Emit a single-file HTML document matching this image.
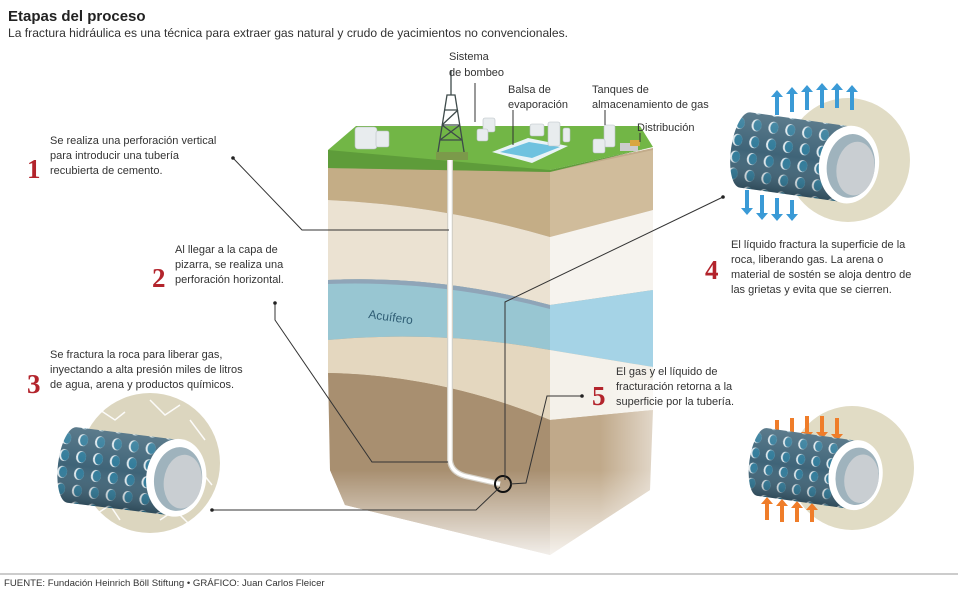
<!DOCTYPE html>
<html><head><meta charset="utf-8"><style>
body{margin:0;background:#fff;width:958px;height:591px;overflow:hidden;font-family:"Liberation Sans",sans-serif;}
svg{position:absolute;left:0;top:0}
.t{font-family:"Liberation Sans",sans-serif;font-size:11px;fill:#333}
.n{font-family:"Liberation Serif",serif;font-weight:bold;font-size:27px;fill:#b3242c}
</style></head><body>
<svg width="958" height="591" viewBox="0 0 958 591">
<defs>
<pattern id="holes" width="17" height="17" patternUnits="userSpaceOnUse">
<rect width="17" height="17" fill="#3f6478"/>
<ellipse cx="8" cy="8" rx="5" ry="6" fill="#dfe9ee"/>
<ellipse cx="9" cy="8" rx="4" ry="5.5" fill="#2f7a99"/>
</pattern>
<linearGradient id="shade" x1="0" y1="0" x2="0" y2="1">
<stop offset="0" stop-color="#fff" stop-opacity=".15"/><stop offset=".5" stop-color="#fff" stop-opacity="0"/><stop offset="1" stop-color="#000" stop-opacity=".25"/>
</linearGradient>
<linearGradient id="fadeR" x1="0" y1="0" x2="1" y2="0">
<stop offset="0" stop-color="#fff" stop-opacity="0"/><stop offset="1" stop-color="#fff" stop-opacity=".6"/>
</linearGradient>
<linearGradient id="fadeB" x1="0" y1="0" x2="0" y2="1">
<stop offset="0" stop-color="#fff" stop-opacity="0"/><stop offset="1" stop-color="#fff" stop-opacity="1"/>
</linearGradient>
<g id="cyl">
<path d="M0,-38 L105,-38 L105,38 L0,38 A14,38 0 0 1 0,-38Z" fill="url(#holes)"/>
<path d="M0,-38 L105,-38 L105,38 L0,38 A14,38 0 0 1 0,-38Z" fill="url(#shade)"/>
<ellipse cx="105" cy="0" rx="30" ry="39" fill="#fff"/>
<ellipse cx="107" cy="1" rx="24" ry="32" fill="#9fb3bd"/>
<ellipse cx="112" cy="3" rx="19" ry="27" fill="#c9ced2"/>
</g>
</defs>

<text x="8" y="21" style="font-family:'Liberation Sans';font-weight:bold;font-size:15px" fill="#222">Etapas del proceso</text>
<text x="8" y="37" class="t" style="font-size:12.1px">La fractura hidráulica es una técnica para extraer gas natural y crudo de yacimientos no convencionales.</text>

<!-- block -->
<polygon points="328,168 550,170 550,555 345,505 330,470" fill="#a48c6e"/>
<polygon points="550,170 653,148 650,490 550,555" fill="#c2ab8a"/>
<path d="M328,168 L550,172 L550,237 Q440,205 328,200Z" fill="#c4ad86"/>
<path d="M328,200 Q440,205 550,237 L550,305 Q440,275 328,280Z" fill="#ebe2d2"/>
<path d="M328,280 Q440,275 550,305 L550,350 Q440,330 328,340Z" fill="#98c6d2"/>
<path d="M328,280 Q440,275 550,305 L550,309 Q440,280 328,284Z" fill="#8fa5b8"/>
<path d="M328,340 Q440,330 550,350 L550,420 Q440,375 328,373Z" fill="#e4d7bf"/>
<path d="M328,373 Q440,375 550,420 L550,555 L345,505 L330,470Z" fill="#a88f70"/>
<polygon points="550,172 653,150 653,210 550,237" fill="#d0bc9b"/>
<polygon points="550,237 653,210 653,290 550,305" fill="#f6f3ee"/>
<polygon points="550,305 653,290 653,367 550,350" fill="#a5d3e6"/>
<polygon points="550,350 653,367 653,410 550,420" fill="#f4f1ea"/>
<polygon points="550,420 653,410 650,490 550,555" fill="#c0a98a"/>
<rect x="600" y="380" width="60" height="180" fill="url(#fadeR)"/>
<rect x="320" y="470" width="340" height="100" fill="url(#fadeB)"/>
<polygon points="328,150 356,126 640,126 653,147 550,170 328,168" fill="#72b646"/>
<polygon points="328,150 550,170 653,147 550,172 328,168" fill="#5e9c3a"/>
<text x="368" y="318" class="t" transform="rotate(8 368 318)" style="fill:#2f5d74;font-size:12px">Acuífero</text>
<polygon points="492,152 528,138 568,146 532,163" fill="#e9f3f6"/>
<polygon points="500,152 529,142 560,147 532,158" fill="#6fc2df"/>
<g fill="#e8ecee" stroke="#b8c0c4" stroke-width=".6">
<rect x="355" y="127" width="22" height="22" rx="3"/><rect x="376" y="131" width="13" height="16" rx="2"/>
<rect x="483" y="118" width="12" height="14" rx="2"/><rect x="477" y="129" width="11" height="12" rx="2"/>
<rect x="530" y="124" width="14" height="12" rx="2"/><rect x="548" y="122" width="12" height="24" rx="2"/><rect x="563" y="128" width="7" height="14" rx="2"/>
<rect x="604" y="125" width="11" height="22" rx="2"/><rect x="593" y="139" width="12" height="14" rx="2"/>
</g>
<rect x="620" y="143" width="18" height="8" fill="#ccc"/><rect x="630" y="140" width="10" height="6" fill="#d9a640"/>
<g stroke="#3e4a4a" stroke-width="1.3" fill="none">
<path d="M437,158 L447,95 L455,95 L465,158"/>
<path d="M440,140 L462,140 M442,125 L460,125 M444,110 L458,110 M440,140 L460,125 M442,125 L458,110 M462,140 L442,125"/>
<line x1="451" y1="70" x2="451" y2="95"/>
</g>
<rect x="436" y="152" width="32" height="8" fill="#7b9a4a"/>
<path d="M450,160 L450,460 Q451,472 465,476 L500,484" stroke="#d4d0c6" stroke-width="6" fill="none"/>
<path d="M450,160 L450,460 Q451,472 465,476 L500,484" stroke="#fff" stroke-width="3.5" fill="none"/>
<circle cx="503" cy="484" r="8" fill="none" stroke="#111" stroke-width="2"/>

<g stroke="#333" stroke-width="1" fill="none">
<path d="M233,158 L302,230 L449,230"/>
<path d="M275,303 L275,320 L372,462 L448,462"/>
<path d="M212,510 L476,510 L500,487"/>
<path d="M723,197 L505,302 L505,480"/>
<path d="M582,396 L547,396 L526,483 L510,484"/>
<line x1="475" y1="83" x2="475" y2="122"/>
<line x1="513" y1="110" x2="513" y2="145"/>
<line x1="605" y1="110" x2="605" y2="125"/>
<line x1="640" y1="133" x2="640" y2="142"/>
</g>
<g fill="#222"><circle cx="233" cy="158" r="1.8"/><circle cx="275" cy="303" r="1.8"/><circle cx="212" cy="510" r="1.8"/><circle cx="723" cy="197" r="1.8"/><circle cx="582" cy="396" r="1.8"/></g>

<text class="t"><tspan x="449" y="60">Sistema</tspan><tspan x="449" y="76">de bombeo</tspan></text>
<text class="t"><tspan x="508" y="93">Balsa de</tspan><tspan x="508" y="108">evaporación</tspan></text>
<text class="t"><tspan x="592" y="93">Tanques de</tspan><tspan x="592" y="108">almacenamiento de gas</tspan></text>
<text class="t" x="637" y="131">Distribución</text>

<text class="n" x="27" y="178">1</text>
<text class="t"><tspan x="50" y="144">Se realiza una perforación vertical</tspan><tspan x="50" y="159">para introducir una tubería</tspan><tspan x="50" y="174">recubierta de cemento.</tspan></text>
<text class="n" x="152" y="287">2</text>
<text class="t"><tspan x="175" y="253">Al llegar a la capa de</tspan><tspan x="175" y="268">pizarra, se realiza una</tspan><tspan x="175" y="283">perforación horizontal.</tspan></text>
<text class="n" x="27" y="393">3</text>
<text class="t"><tspan x="50" y="358">Se fractura la roca para liberar gas,</tspan><tspan x="50" y="373">inyectando a alta presión miles de litros</tspan><tspan x="50" y="388">de agua, arena y productos químicos.</tspan></text>
<text class="n" x="705" y="279">4</text>
<text class="t"><tspan x="731" y="248">El líquido fractura la superficie de la</tspan><tspan x="731" y="263">roca, liberando gas. La arena o</tspan><tspan x="731" y="278">material de sostén se aloja dentro de</tspan><tspan x="731" y="293">las grietas y evita que se cierren.</tspan></text>
<text class="n" x="592" y="405">5</text>
<text class="t"><tspan x="616" y="375">El gas y el líquido de</tspan><tspan x="616" y="390">fracturación retorna a la</tspan><tspan x="616" y="405">superficie por la tubería.</tspan></text>

<circle cx="150" cy="463" r="70" fill="#dcd6bf"/>
<g stroke="#fff" stroke-width="1.5" fill="none" opacity=".9">
<path d="M100,410 L115,420 L125,412 M150,400 L165,415 L180,405 M190,420 L205,440 M95,515 L110,505 L120,520 M160,520 L175,510 L190,525 M200,470 L212,485"/>
</g>
<use href="#cyl" transform="translate(72,465) rotate(7)"/>

<circle cx="848" cy="160" r="62" fill="#e1dcc5"/>
<g fill="#3a9ad6">
<path d="M775,115 l0,-18 l-4,0 l6,-7 l6,7 l-4,0 l0,18z M790,112 l0,-18 l-4,0 l6,-7 l6,7 l-4,0 l0,18z M805,110 l0,-18 l-4,0 l6,-7 l6,7 l-4,0 l0,18z M820,108 l0,-18 l-4,0 l6,-7 l6,7 l-4,0 l0,18z M835,108 l0,-18 l-4,0 l6,-7 l6,7 l-4,0 l0,18z M850,110 l0,-18 l-4,0 l6,-7 l6,7 l-4,0 l0,18z"/>
<path d="M745,190 l0,18 l-4,0 l6,7 l6,-7 l-4,0 l0,-18z M760,195 l0,18 l-4,0 l6,7 l6,-7 l-4,0 l0,-18z M775,198 l0,16 l-4,0 l6,7 l6,-7 l-4,0 l0,-16z M790,200 l0,14 l-4,0 l6,7 l6,-7 l-4,0 l0,-14z"/>
</g>
<use href="#cyl" transform="translate(745,150) rotate(8)"/>

<circle cx="852" cy="468" r="62" fill="#e1dcc5"/>
<g fill="#ef7d2a">
<path d="M775,420 l0,16 l-4,0 l6,7 l6,-7 l-4,0 l0,-16z M790,418 l0,16 l-4,0 l6,7 l6,-7 l-4,0 l0,-16z M805,416 l0,16 l-4,0 l6,7 l6,-7 l-4,0 l0,-16z M820,416 l0,16 l-4,0 l6,7 l6,-7 l-4,0 l0,-16z M835,418 l0,16 l-4,0 l6,7 l6,-7 l-4,0 l0,-16z"/>
<path d="M765,520 l0,-16 l-4,0 l6,-7 l6,7 l-4,0 l0,16z M780,522 l0,-16 l-4,0 l6,-7 l6,7 l-4,0 l0,16z M795,522 l0,-14 l-4,0 l6,-7 l6,7 l-4,0 l0,14z M810,522 l0,-12 l-4,0 l6,-7 l6,7 l-4,0 l0,12z"/>
</g>
<use href="#cyl" transform="translate(762,462) rotate(8) scale(.9)"/>

<line x1="0" y1="574" x2="958" y2="574" stroke="#999" stroke-width="1"/>
<text x="4" y="586" class="t" style="font-size:9.6px">FUENTE: Fundación Heinrich Böll Stiftung  • GRÁFICO: Juan Carlos Fleicer</text>
</svg>
</body></html>
